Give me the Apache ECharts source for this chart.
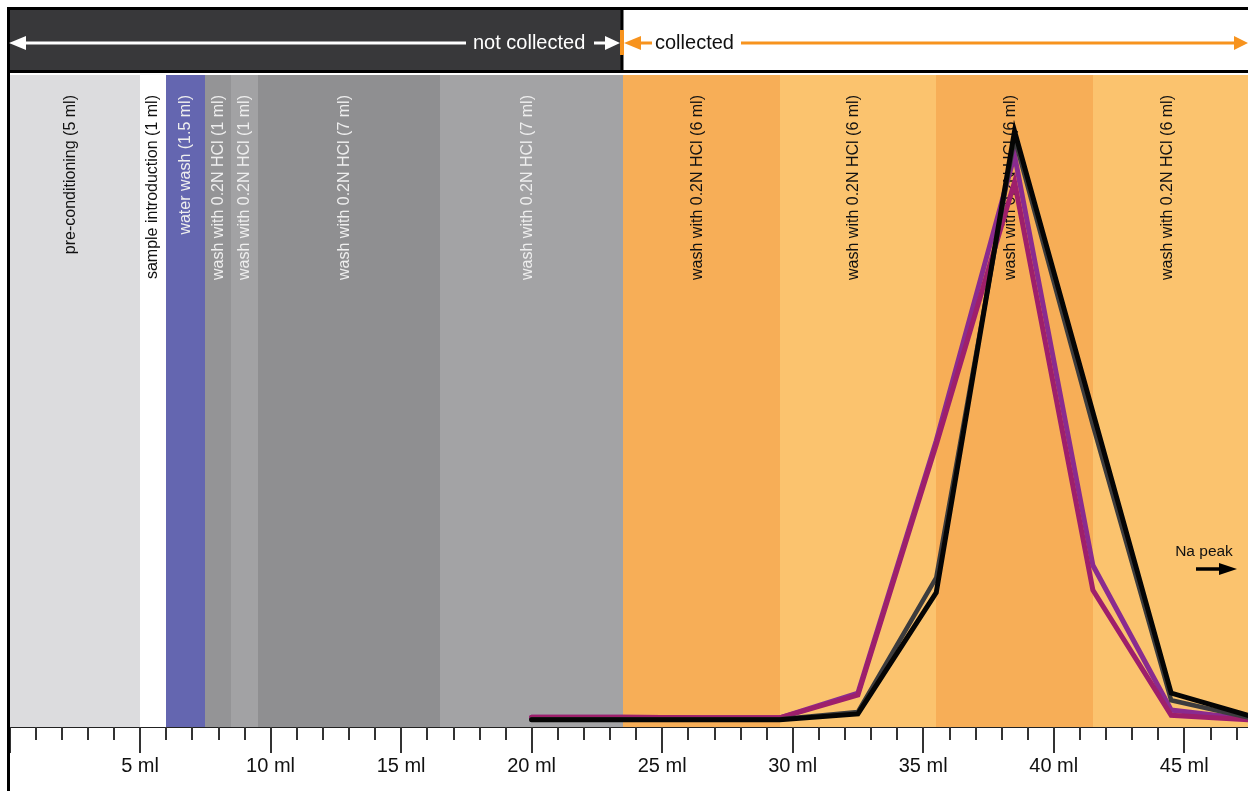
<!DOCTYPE html>
<html>
<head>
<meta charset="utf-8">
<script src="https://cdn.jsdelivr.net/npm/echarts@6/dist/echarts.min.js"></script>
<style>
  html, body { margin: 0; padding: 0; background: #ffffff; overflow: hidden; }
  #chart { width: 1248px; height: 791px; }
</style>
</head>
<body>
<div id="chart"></div>
<script>
// Column steps, in ml of eluent passed
const stepStart = [0, 5, 6, 7.5, 8.5, 9.5, 16.5, 23.5, 29.5, 35.5, 41.5];
const stepEnd   = [5, 6, 7.5, 8.5, 9.5, 16.5, 23.5, 29.5, 35.5, 41.5, 47.5];
const stepLabels = [
  'pre-conditioning (5 ml)',
  'sample introduction (1 ml)',
  'water wash (1.5 ml)',
  'wash with 0.2N HCl (1 ml)',
  'wash with 0.2N HCl (1 ml)',
  'wash with 0.2N HCl (7 ml)',
  'wash with 0.2N HCl (7 ml)',
  'wash with 0.2N HCl (6 ml)',
  'wash with 0.2N HCl (6 ml)',
  'wash with 0.2N HCl (6 ml)',
  'wash with 0.2N HCl (6 ml)'
];
const collectStart = 23.5;   // ml where collection begins

// Eluted fractions (ml) and relative signal of each run
const fractionVolume = [20, 23.5, 26.5, 29.5, 32.5, 35.5, 38.5, 41.5, 44.5, 47.5];
const runA = [1.5, 1.5, 1.4, 1.4, 5.2, 43.9, 87.7, 24.8, 2.6, 1.2];
const runB = [1.5, 1.5, 1.4, 1.4, 4.9, 43.3, 83.6, 21.0, 1.8, 1.1];
const runC = [1.2, 1.2, 1.2, 1.2, 2.3, 22.9, 90.3, 46.3, 4.1, 1.4];
const runD = [1.1, 1.1, 1.1, 1.1, 2.0, 20.6, 91.4, 48.3, 5.2, 1.7];

// Styling
const stepFill = ['#dcdcde', '#ffffff', '#6466b0', '#949496', '#a2a2a4', '#8f8f91', '#a3a3a5',
                  '#f7ae57', '#fbc36e', '#f7ae57', '#fbc36e'];
const stepInk  = ['#111111', '#111111', '#eeeeee', '#eeeeee', '#eeeeee', '#eeeeee', '#eeeeee',
                  '#111111', '#111111', '#111111', '#111111'];
const FONT = '"Liberation Sans", Arial, sans-serif';
const ORANGE = '#f7931e';

const pairs = (xs, ys) => xs.map((x, i) => [x, ys[i]]);

const chart = echarts.init(document.getElementById('chart'), null, { renderer: 'canvas' });

const lineSeries = (name, data, color, width) => ({
  name, type: 'line', data, symbol: 'none', smooth: false, z: 5,
  lineStyle: { color, width, cap: 'round', join: 'miter', miterLimit: 20 },
  emphasis: { disabled: true }
});

chart.setOption({
  animation: false,
  grid: { left: 9.5, width: 1240, top: 75, bottom: 64, containLabel: false, outerBoundsMode: 'none' },
  xAxis: [
    {
      type: 'value', min: 0, max: 47.5, interval: 1, position: 'bottom',
      axisLine: { show: true, onZero: false, lineStyle: { color: '#222', width: 2 } },
      axisTick: { show: true, length: 13, lineStyle: { color: '#333', width: 2 } },
      axisLabel: { show: false }, splitLine: { show: false }
    },
    {
      type: 'value', min: 0, max: 47.5, interval: 5, position: 'bottom',
      axisLine: { show: false, onZero: false },
      axisTick: { show: true, length: 26, lineStyle: { color: '#333', width: 2 } },
      axisLabel: {
        show: true, margin: 29, fontSize: 20, fontFamily: FONT, color: '#111',
        formatter: v => (v > 0 && v % 5 === 0) ? v + ' ml' : ''
      },
      splitLine: { show: false }
    }
  ],
  yAxis: { type: 'value', min: 0, max: 100, show: false, splitLine: { show: false } },
  series: [
    {
      type: 'custom', silent: true, z: 1,
      data: stepStart.map((s, i) => [s, stepEnd[i], i]),
      encode: { x: [0, 1] },
      renderItem(params, api) {
        const i = api.value(2);
        const a = api.coord([api.value(0), 100]);
        const b = api.coord([api.value(1), 0]);
        const x0 = Math.round(a[0]), x1 = Math.round(b[0]);
        // wide steps keep their label a little left of centre
        const shift = (x1 - x0) > 60 ? -4 : 0;
        return {
          type: 'group',
          children: [
            { type: 'rect', shape: { x: x0, y: a[1], width: x1 - x0, height: b[1] - a[1] },
              style: { fill: stepFill[i] } },
            { type: 'text', x: (a[0] + b[0]) / 2 + shift, y: a[1] + 20, rotation: Math.PI / 2,
              style: { text: stepLabels[i], fill: stepInk[i], font: '16px ' + FONT,
                       align: 'right', verticalAlign: 'middle' } }
          ]
        };
      }
    },
    lineSeries('run A', pairs(fractionVolume, runA), '#8a2b8f', 5),
    lineSeries('run B', pairs(fractionVolume, runB), '#9e1f6b', 5),
    lineSeries('run C', pairs(fractionVolume, runC), '#3c3c3e', 4.5),
    lineSeries('run D', pairs(fractionVolume, runD), '#050505', 5)
  ]
});

// Header strip: not collected / collected
const split = Math.round(chart.convertToPixel({ xAxisIndex: 0 }, collectStart));
const W = 1248, yMid = 43;
chart.setOption({
  graphic: [
    { type: 'rect', shape: { x: 9, y: 9, width: split - 9, height: 63 }, style: { fill: '#38383a' }, z: 10 },
    { type: 'rect', shape: { x: split, y: 9, width: W - split, height: 63 }, style: { fill: '#ffffff' }, z: 10 },
    { type: 'line', shape: { x1: 7, y1: 8.5, x2: W, y2: 8.5 }, style: { stroke: '#000', lineWidth: 3 }, z: 11 },
    { type: 'line', shape: { x1: 7, y1: 71.5, x2: W, y2: 71.5 }, style: { stroke: '#000', lineWidth: 3 }, z: 11 },
    { type: 'line', shape: { x1: split - 1, y1: 8, x2: split - 1, y2: 73 }, style: { stroke: '#000', lineWidth: 3 }, z: 11 },
    { type: 'line', shape: { x1: 8.5, y1: 7, x2: 8.5, y2: 791 }, style: { stroke: '#000', lineWidth: 3 }, z: 11 },
    // white arrows
    { type: 'line', shape: { x1: 22, y1: yMid, x2: 466, y2: yMid }, style: { stroke: '#fff', lineWidth: 3 }, z: 12 },
    { type: 'polygon', shape: { points: [[9, yMid], [26, yMid - 7], [26, yMid + 7]] }, style: { fill: '#fff' }, z: 12 },
    { type: 'text', x: 473, y: yMid, style: { text: 'not collected', fill: '#fff', font: '20px ' + FONT, align: 'left', verticalAlign: 'middle' }, z: 12 },
    { type: 'line', shape: { x1: 594, y1: yMid, x2: 608, y2: yMid }, style: { stroke: '#fff', lineWidth: 3 }, z: 12 },
    { type: 'polygon', shape: { points: [[split - 3, yMid], [split - 18, yMid - 7], [split - 18, yMid + 7]] }, style: { fill: '#fff' }, z: 12 },
    // orange arrows
    { type: 'rect', shape: { x: split - 3, y: 30, width: 4, height: 25 }, style: { fill: ORANGE }, z: 13 },
    { type: 'polygon', shape: { points: [[split + 1, yMid], [split + 18, yMid - 7], [split + 18, yMid + 7]] }, style: { fill: ORANGE }, z: 12 },
    { type: 'line', shape: { x1: split + 14, y1: yMid, x2: 652, y2: yMid }, style: { stroke: ORANGE, lineWidth: 3 }, z: 12 },
    { type: 'text', x: 655, y: yMid, style: { text: 'collected', fill: '#111', font: '20px ' + FONT, align: 'left', verticalAlign: 'middle' }, z: 12 },
    { type: 'line', shape: { x1: 741, y1: yMid, x2: 1238, y2: yMid }, style: { stroke: ORANGE, lineWidth: 3 }, z: 12 },
    { type: 'polygon', shape: { points: [[W, yMid], [1234, yMid - 7], [1234, yMid + 7]] }, style: { fill: ORANGE }, z: 12 },
    // Na peak marker
    { type: 'text', x: 1204, y: 552, style: { text: 'Na peak', fill: '#111', font: '15.5px ' + FONT, align: 'center', verticalAlign: 'middle' }, z: 12 },
    { type: 'line', shape: { x1: 1196, y1: 569, x2: 1224, y2: 569 }, style: { stroke: '#000', lineWidth: 3.5 }, z: 12 },
    { type: 'polygon', shape: { points: [[1237, 569], [1219, 563], [1219, 575]] }, style: { fill: '#000' }, z: 12 }
  ]
});
</script>
</body>
</html>
